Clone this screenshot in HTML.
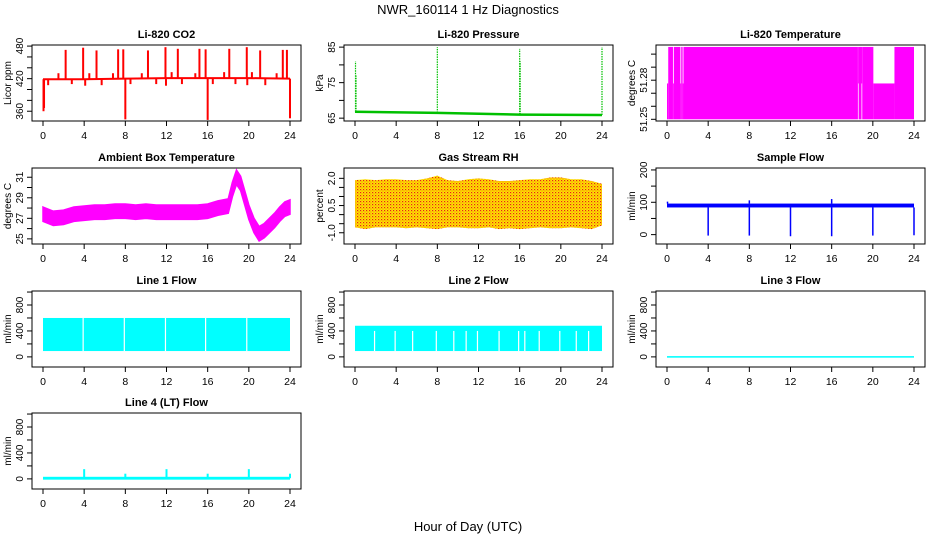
<!DOCTYPE html>
<html><head><meta charset="utf-8"><style>
html,body{margin:0;padding:0;background:#fff}
svg{display:block;font-family:"Liberation Sans",Arial,sans-serif}
</style></head><body>
<svg id="chart" width="936" height="540" viewBox="0 0 936 540">
<defs>
<pattern id="rhpat" width="3" height="3" patternUnits="userSpaceOnUse">
<rect width="3" height="3" fill="#ffe600"/><rect x="0" y="0" width="1.2" height="1.2" fill="#e8201a"/><rect x="1.5" y="1.5" width="1" height="1" fill="#f06010"/>
</pattern>
</defs>
<text x="468" y="14" text-anchor="middle" font-size="13">NWR_160114  1 Hz Diagnostics</text>
<text x="468" y="531" text-anchor="middle" font-size="13">Hour of Day (UTC)</text>
</svg>
<script>
// ---- data ----
const xTicks = [0,4,8,12,16,20,24];
const co2BaseHours = [0,4,8,12,16,20,24];
const co2Base = [419,419,420,421,421,421,420];
const co2SpikeHours = [0.05,0.1,0.5,1.5,2.2,2.8,3.9,4.1,4.5,5.2,5.7,6.8,7.3,7.8,8.0,8.5,9.6,10.2,11.0,11.9,11.95,12.5,13.1,13.5,14.8,15.2,15.8,16.0,16.5,17.6,18.1,18.7,19.8,19.85,20.3,21.1,21.6,22.7,23.3,23.7,24.0];
const co2SpikeVals = [360,366,408,430,473,410,477,407,430,472,408,430,474,474,345,410,430,472,410,478,407,432,475,410,430,475,474,344,410,432,475,410,478,408,432,472,408,430,473,473,347];
const presBaseHours = [0,8,16,24];
const presBase = [66.8,66.5,66.0,65.9];
const presSpikeHours = [0.05,0.1,8.0,16.0,16.05,24.0];
const presSpikeVals = [81,77,85,84.5,81,85];
const tempLevels = {lo:51.25, mid:51.2775, hi:51.3055};
const tempStart = [0,0.12,0.58,0.66,1.3,1.38,1.52,1.6,18.55,18.62,18.9,18.97,20.05,22.1];
const tempEnd   = [0.12,0.58,0.66,1.3,1.38,1.52,1.6,18.55,18.62,18.9,18.97,20.05,22.1,24];
const tempTop   = ['mid','hi','mid','hi','mid','hi','mid','hi','hi','hi','hi','hi','mid','hi'];
const tempBot   = ['lo','lo','lo','lo','lo','lo','lo','lo','mid','lo','mid','lo','lo','lo'];
const ambHours = [0,1,2,3,4,5,6,7,8,9,10,11,12,13,14,15,16,17,17.5,18,18.4,18.8,19.2,19.6,20,20.5,21,21.5,22,22.5,23,23.5,24];
const ambCenter = [27.4,27.0,27.1,27.4,27.5,27.6,27.6,27.7,27.7,27.6,27.7,27.6,27.6,27.6,27.6,27.6,27.7,28.0,28.1,28.2,29.8,31.0,30.4,29.0,27.6,26.3,25.5,25.8,26.3,26.8,27.4,27.9,28.1];
const ambHalf = 0.7;
const rhHours = [0,1,2,3,4,5,6,7,8,9,10,11,12,13,14,15,16,17,18,19,20,21,22,23,24];
const rhHi = [1.9,1.95,1.9,1.95,1.95,1.9,1.9,2.0,2.15,1.9,1.85,1.95,2.0,1.95,1.85,1.85,1.9,1.95,1.95,2.05,2.05,1.95,1.95,1.85,1.7];
const rhLo = [-0.7,-0.8,-0.7,-0.7,-0.7,-0.75,-0.7,-0.75,-0.8,-0.7,-0.7,-0.75,-0.75,-0.7,-0.8,-0.75,-0.8,-0.75,-0.7,-0.75,-0.75,-0.7,-0.75,-0.8,-0.6];
const sfBandLo = 84, sfBandHi = 96;
const sfDipHours = [4,8,12,16,20,24];
const sfDipVals = [-3,-3,-5,-5,-3,-2];
const sfSpikeHours = [0.05,8.0,16.0];
const sfSpikeVals = [102,106,110];
const l1Lo = 90, l1Hi = 600;
const l1Gaps = [3.9,7.9,11.9,15.8,19.8];
const l2Lo = 90, l2Hi = 480;
const l2Gaps = [1.9,3.9,5.6,7.9,9.6,10.8,11.9,14.0,15.9,16.5,17.9,19.9,21.5,22.7];
const l3Val = 0;
const l4Base = 10;
const l4SpikeHours = [4,8,12,16,20,24];
const l4SpikeVals = [150,80,150,80,150,80];

const svg = document.getElementById('chart');
const NS = 'http://www.w3.org/2000/svg';
function mk(tag, attrs, parent){
  const e = document.createElementNS(NS, tag);
  for (const k in attrs) e.setAttribute(k, attrs[k]);
  (parent||svg).appendChild(e);
  return e;
}
const rowTops = [45,168,291,413];
const BH = 76;
function panel(col,row,slug,title,ylab,ymin,ymax,ticks,labels){
  const left = 32+312*col, right = 301+312*col, top = rowTops[row], bottom = top+BH;
  const x0 = 43+312*col, x24 = 290+312*col;
  const g = mk('g',{});
  
  
  const p = {g,left,right,top,bottom,
    x:h=>x0+(x24-x0)*h/24,
    y:v=>bottom-(v-ymin)/(ymax-ymin)*BH};
  const t = mk('text',{x:(x0+x24)/2,y:top-7,'text-anchor':'middle','font-size':11,'font-weight':'bold'},g);
  t.textContent = title;
  
  
  const yl = mk('text',{x:0,y:0,'text-anchor':'middle','font-size':10,transform:`translate(${left-21},${(top+bottom)/2}) rotate(-90)`},g);
  yl.textContent = ylab;
  
  
  const marks = mk('g',{},g);
  
  
  p.marks = marks;
  const box = mk('rect',{x:left,y:top,width:right-left,height:BH,fill:'none',stroke:'#000','stroke-width':1},g);
  
  
  xTicks.forEach(h=>{
    const tk = mk('line',{x1:p.x(h),x2:p.x(h),y1:bottom,y2:bottom+5,stroke:'#000'},g);
    
    
    const tl = mk('text',{x:p.x(h),y:bottom+18,'text-anchor':'middle','font-size':10.5},g);
    tl.textContent = h;
    
    
  });
  ticks.forEach(v=>{
    const yy = p.y(v);
    const tk = mk('line',{x1:left-5,x2:left,y1:yy,y2:yy,stroke:'#000'},g);
    
    
  });
  labels.forEach(lab=>{
    const yy = p.y(parseFloat(lab));
    const tl = mk('text',{x:0,y:0,'text-anchor':'middle','font-size':10,transform:`translate(${left-9},${yy}) rotate(-90)`},g);
    tl.textContent = lab;
    
    
  });
  return p;
}
function vline(p,h,v1,v2,color,w,name){
  const l = mk('line',{x1:p.x(h),x2:p.x(h),y1:p.y(v1),y2:p.y(v2),stroke:color,'stroke-width':w},p.marks);
  
  
  return l;
}
function interp(hs,vs,h){
  for(let i=1;i<hs.length;i++) if(h<=hs[i]){const f=(h-hs[i-1])/(hs[i]-hs[i-1]);return vs[i-1]+f*(vs[i]-vs[i-1]);}
  return vs[vs.length-1];
}
function band(p,lo,hi,fill,name){
  const r = mk('rect',{x:p.x(0),y:p.y(hi),width:p.x(24)-p.x(0),height:p.y(lo)-p.y(hi),fill},p.marks);
  
  
}

// CO2
const pc = panel(0,0,'co2','Li-820 CO2','Licor ppm',342,482,[360,380,400,420,440,460,480],['360','420','480']);
const co2Line = mk('polyline',{points:co2BaseHours.map((h,i)=>pc.x(h)+','+pc.y(co2Base[i])).join(' '),fill:'none',stroke:'#f00','stroke-width':2},pc.marks);


co2SpikeHours.forEach((h,i)=>vline(pc,h,interp(co2BaseHours,co2Base,h),co2SpikeVals[i],'#f00',2,'co2-spike'));

// Pressure
const pp = panel(1,0,'pressure','Li-820 Pressure','kPa',64.2,85.6,[65,70,75,80,85],['65','75','85']);
const prLine = mk('polyline',{points:presBaseHours.map((h,i)=>pp.x(h)+','+pp.y(presBase[i])).join(' '),fill:'none',stroke:'#00c000','stroke-width':2.5},pp.marks);


presSpikeHours.forEach((h,i)=>{const l=vline(pp,h,interp(presBaseHours,presBase,h),presSpikeVals[i],'#00c000',1.2,'pressure-spike');l.setAttribute('stroke-dasharray','1.5,1');});

// Temperature
const pt = panel(2,0,'li820-temp','Li-820 Temperature','degrees C',51.2487,51.307,[51.25,51.26,51.27,51.28,51.29,51.30],['51.25','51.28']);
tempStart.forEach((s,i)=>{
  const top = pt.y(tempLevels[tempTop[i]]), bot = pt.y(tempLevels[tempBot[i]]);
  const r = mk('rect',{x:pt.x(s),y:top,width:pt.x(tempEnd[i])-pt.x(s),height:bot-top,fill:'#ff00ff'},pt.marks);
  
  
});

// Ambient
const pa = panel(0,1,'ambient','Ambient Box Temperature','degrees C',24.5,31.9,[25,26,27,28,29,30,31],['25','27','29','31']);
const ambPts = ambHours.map((h,i)=>pa.x(h)+','+pa.y(ambCenter[i]+ambHalf)).concat(ambHours.slice().reverse().map((h,j)=>{const i=ambHours.length-1-j;return pa.x(h)+','+pa.y(ambCenter[i]-ambHalf);}));
const ambPoly = mk('polygon',{points:ambPts.join(' '),fill:'#ff00ff',stroke:'#ff00ff','stroke-width':1.5},pa.marks);



// RH
const pr = panel(1,1,'rh','Gas Stream RH','percent',-1.62,2.57,[-1.0,-0.5,0,0.5,1.0,1.5,2.0],['-1.0','0.5','2.0']);
const rhPts = rhHours.map((h,i)=>pr.x(h)+','+pr.y(rhHi[i])).concat(rhHours.slice().reverse().map((h,j)=>{const i=rhHours.length-1-j;return pr.x(h)+','+pr.y(rhLo[i]);}));
const rhPoly = mk('polygon',{points:rhPts.join(' '),fill:'url(#rhpat)'},pr.marks);



// Sample flow
const ps = panel(2,1,'sample-flow','Sample Flow','ml/min',-29,206,[0,50,100,150,200],['0','100','200']);
band(ps,sfBandLo,sfBandHi,'#0000ff','sample-flow-band');
sfDipHours.forEach((h,i)=>vline(ps,h,sfBandLo,sfDipVals[i],'#0000ff',1.5,'sample-flow-dip'));
sfSpikeHours.forEach((h,i)=>vline(ps,h,sfBandHi,sfSpikeVals[i],'#0000ff',1.5,'sample-flow-spike'));

// Line flows
const flowTicks = [0,200,400,600,800,1000], flowLabels = ['0','400','800'];
const p1 = panel(0,2,'line1-flow','Line 1 Flow','ml/min',-156,1016,flowTicks,flowLabels);
band(p1,l1Lo,l1Hi,'#00ffff','line1-flow-band');
l1Gaps.forEach(h=>vline(p1,h,l1Lo,l1Hi,'#fff',1.2,'line1-flow-gap'));
const p2 = panel(1,2,'line2-flow','Line 2 Flow','ml/min',-156,1016,flowTicks,flowLabels);
band(p2,l2Lo,l2Hi,'#00ffff','line2-flow-band');
l2Gaps.forEach(h=>vline(p2,h,l2Lo,l2Hi-80,'#fff',1.2,'line2-flow-gap'));
const p3 = panel(2,2,'line3-flow','Line 3 Flow','ml/min',-156,1016,flowTicks,flowLabels);
band(p3,l3Val-12,l3Val+12,'#00ffff','line3-flow-line');
const p4 = panel(0,3,'line4-flow','Line 4 (LT) Flow','ml/min',-156,1016,flowTicks,flowLabels);
band(p4,l4Base-22,l4Base+22,'#00ffff','line4-flow-line');
l4SpikeHours.forEach((h,i)=>vline(p4,h,l4Base,l4SpikeVals[i],'#00ffff',2,'line4-flow-spike'));
</script>
</body></html>
